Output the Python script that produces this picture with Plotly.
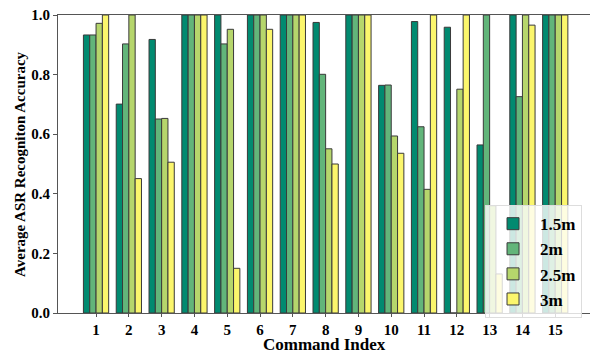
import plotly.graph_objects as go

commands = list(range(1, 16))
series_names = ["1.5m", "2m", "2.5m", "3m"]
acc_15m = [0.933, 0.701, 0.918, 1.0, 1.0, 1.0, 1.0, 0.975, 1.0, 0.764, 0.978, 0.959, 0.564, 1.0, 1.0]
acc_2m = [0.933, 0.903, 0.651, 1.0, 0.903, 1.0, 1.0, 0.801, 1.0, 0.765, 0.625, 0.0, 1.0, 0.726, 1.0]
acc_25m = [0.972, 1.0, 0.653, 1.0, 0.952, 1.0, 1.0, 0.551, 1.0, 0.594, 0.415, 0.751, 0.36, 1.0, 1.0]
acc_3m = [1.0, 0.451, 0.506, 1.0, 0.15, 0.952, 1.0, 0.5, 1.0, 0.536, 1.0, 1.0, 0.131, 0.966, 1.0]
series_values = [acc_15m, acc_2m, acc_25m, acc_3m]
colors = ["#018a70", "#62b57a", "#b6d66c", "#fbf66c"]

font_family = "Liberation Serif"

fig = go.Figure()
for name, vals, col in zip(series_names, series_values, colors):
    fig.add_trace(go.Bar(
        x=commands, y=vals, name=f"<b>{name}</b>",
        marker=dict(color=col, line=dict(color="#3a3a3a", width=1)),
    ))

fig.update_layout(
    width=590, height=354,
    margin=dict(l=58, r=0, t=15, b=41, autoexpand=False),
    paper_bgcolor="white", plot_bgcolor="white",
    barmode="group", bargap=0.23, bargroupgap=0,
    font=dict(family=font_family, color="black"),
    showlegend=True,
    legend=dict(
        x=0.985, y=0.362, xanchor="right", yanchor="top",
        bgcolor="rgba(255,255,255,0.8)", bordercolor="#dddddd", borderwidth=1,
        font=dict(family=font_family, size=17, color="black"),
        traceorder="normal", itemwidth=44,
    ),
    xaxis=dict(
        range=[-0.16, 16.06], tickmode="array", tickvals=commands,
        ticktext=[f"<b>{c}</b>" for c in commands],
        tickfont=dict(size=15, family=font_family),
        showline=True, linecolor="#555555", linewidth=1, mirror=True,
        ticks="outside", ticklen=3, tickcolor="#555555",
        showgrid=False, zeroline=False, automargin=False,
        ticklabeloverflow="allow",
    ),
    yaxis=dict(
        range=[0, 1.0], tickmode="array", tickvals=[0, 0.2, 0.4, 0.6, 0.8, 1.0],
        ticktext=["<b>0.0</b>", "<b>0.2</b>", "<b>0.4</b>", "<b>0.6</b>", "<b>0.8</b>", "<b>1.0</b>"],
        tickfont=dict(size=15, family=font_family),
        showline=True, linecolor="#555555", linewidth=1,
        ticks="outside", ticklen=4, tickcolor="#555555",
        showgrid=False, zeroline=False, automargin=False,
        ticklabeloverflow="allow",
    ),
    annotations=[
        dict(text="<b>Command Index</b>", xref="paper", yref="paper",
             x=0.5, y=-31.5 / 298, xanchor="center", yanchor="middle",
             showarrow=False, font=dict(size=17, family=font_family)),
        dict(text="<b>Average ASR Recogniton Accuracy</b>", xref="paper", yref="paper",
             x=-38 / 532, y=0.5, xanchor="center", yanchor="middle", textangle=-90,
             showarrow=False, font=dict(size=15, family=font_family)),
    ],
)

fig.write_html("out.html", post_script="document.body.style.margin='0';",
               config={"displayModeBar": False})
